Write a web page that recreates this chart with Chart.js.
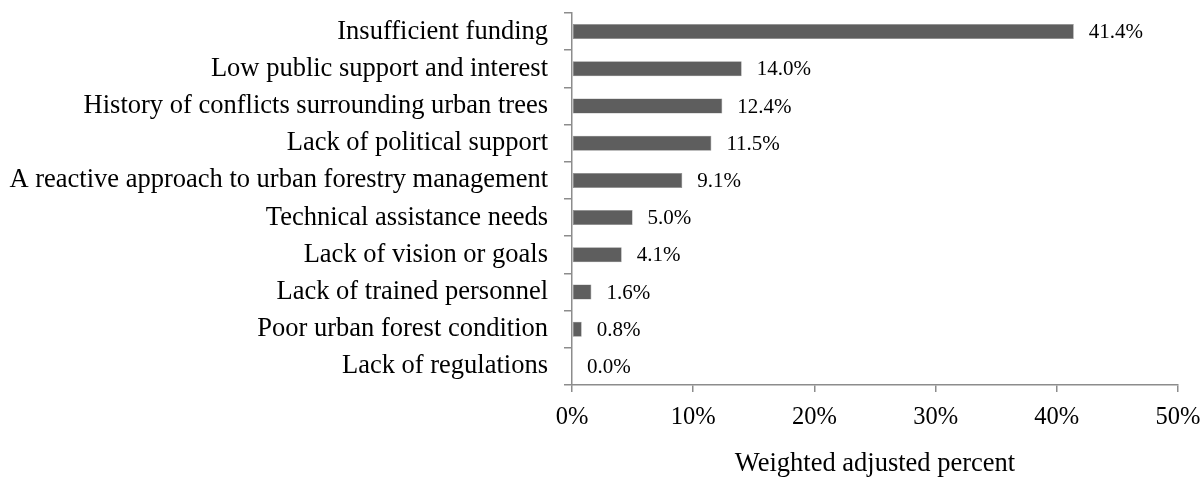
<!DOCTYPE html>
<html>
<head>
<meta charset="utf-8">
<script src="https://cdn.jsdelivr.net/npm/chart.js@4/dist/chart.umd.min.js"></script>
<style>
  html, body { margin: 0; padding: 0; background: #ffffff; }
  #wrap { width: 1202px; height: 480px; }
</style>
</head>
<body>
<div id="wrap"><canvas id="c" width="1202" height="480"></canvas></div>
<script>
const categories = [
  "Insufficient funding",
  "Low public support and interest",
  "History of conflicts surrounding urban trees",
  "Lack of political support",
  "A reactive approach to urban forestry management",
  "Technical assistance needs",
  "Lack of vision or goals",
  "Lack of trained personnel",
  "Poor urban forest condition",
  "Lack of regulations"
];
const weightedPercent = [41.4, 14.0, 12.4, 11.5, 9.1, 5.0, 4.1, 1.6, 0.8, 0.0];
const xTickValues = [0, 10, 20, 30, 40, 50];
const xAxisTitle = "Weighted adjusted percent";

const SERIF = "'Liberation Serif', 'Times New Roman', serif";
const AXIS_GREY = "#8c8c8c";

// Writes each bar's value just past its end
const valueLabels = {
  id: "valueLabels",
  afterDatasetsDraw(chart) {
    const ctx = chart.ctx;
    const meta = chart.getDatasetMeta(0);
    ctx.save();
    ctx.font = "21px " + SERIF;
    ctx.fillStyle = "#000000";
    ctx.textAlign = "left";
    ctx.textBaseline = "middle";
    meta.data.forEach((bar, i) => {
      const v = weightedPercent[i];
      ctx.fillText(v.toFixed(1) + "%", bar.x + 15, bar.y + 1);
    });
    ctx.restore();
  }
};

new Chart(document.getElementById("c"), {
  type: "bar",
  data: {
    labels: categories,
    datasets: [{
      data: weightedPercent,
      backgroundColor: "#5e5e5e",
      borderColor: "#8a8a8a",
      borderWidth: 0.6,
      borderSkipped: false,
      categoryPercentage: 0.76,
      barPercentage: 0.53
    }]
  },
  options: {
    indexAxis: "y",
    responsive: false,
    animation: false,
    layout: { padding: { top: 13, right: 24, left: 0, bottom: 0 } },
    plugins: {
      legend: { display: false },
      tooltip: { enabled: false }
    },
    scales: {
      x: {
        min: 0,
        max: 50,
        afterBuildTicks(scale) {
          scale.ticks = xTickValues.map(v => ({ value: v }));
        },
        afterFit(scale) {
          scale.height = 95;
          scale.paddingLeft = 0;
          scale.paddingRight = 0;
        },
        grid: {
          drawOnChartArea: false,
          drawTicks: true,
          tickLength: 7,
          color: AXIS_GREY,
          lineWidth: 1.5
        },
        border: { display: true, color: AXIS_GREY, width: 1.5 },
        ticks: {
          color: "#000000",
          font: { family: SERIF, size: 24.5 },
          padding: 11,
          maxRotation: 0,
          callback: v => v + "%"
        },
        title: {
          display: true,
          text: xAxisTitle,
          color: "#000000",
          font: { family: SERIF, size: 26.5 },
          padding: { top: 0, bottom: 0 }
        }
      },
      y: {
        afterFit(scale) {
          scale.width = 572;
          scale.paddingTop = 0;
          scale.paddingBottom = 0;
        },
        grid: {
          offset: true,
          drawOnChartArea: false,
          drawTicks: true,
          tickLength: 8,
          color: AXIS_GREY,
          lineWidth: 1.5
        },
        border: { display: true, color: AXIS_GREY, width: 1.5 },
        ticks: {
          color: "#000000",
          font: { family: SERIF, size: 26.5 },
          padding: 16,
          autoSkip: false
        }
      }
    }
  },
  plugins: [valueLabels]
});
</script>
</body>
</html>
